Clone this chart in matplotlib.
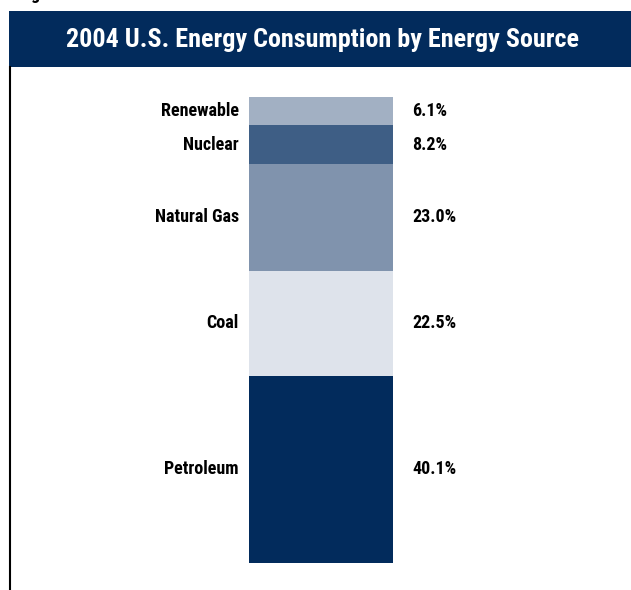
import matplotlib
matplotlib.use("Agg")
import matplotlib.pyplot as plt
from matplotlib.patches import Rectangle
from matplotlib.lines import Line2D
from matplotlib.transforms import blended_transform_factory

# data, bottom segment first
sources = ['Petroleum', 'Coal', 'Natural Gas', 'Nuclear', 'Renewable']
shares = [40.1, 22.5, 23.0, 8.2, 6.1]
labels = ['40.1%', '22.5%', '23.0%', '8.2%', '6.1%']
colors = ['#022b5c', '#dee3eb', '#8093ad', '#3e5e85', '#a2b0c3']

title = '2004 U.S. Energy Consumption by Energy Source'
plt.rcParams['font.family'] = ['Roboto Condensed', 'PT Sans Narrow', 'DejaVu Sans']

W, H = 631, 590
fig = plt.figure(figsize=(W / 100, H / 100), dpi=100)
fig.patch.set_facecolor('white')

# title band
fig.patches.append(Rectangle((9 / W, 1 - 67 / H), 622 / W, 56 / H,
                             transform=fig.transFigure, facecolor='#022b5c',
                             edgecolor='none', zorder=0))
fig.text(323 / W, 1 - 40 / H, title, color='white', fontsize=18.8, fontweight='bold',
         ha='center', va='center')
# cut-off caption above the band (only the descender shows)
fig.text(18 / W, 1 + 1 / H, 'Figure 1', color='black', fontsize=13, fontweight='bold',
         ha='left', va='baseline')
# left frame line
fig.add_artist(Line2D([9.5 / W, 9.5 / W], [0, 1 - 67 / H], transform=fig.transFigure,
                      color='black', linewidth=1.5))

ax = fig.add_axes([249 / W, 27 / H, 144 / W, 466 / H])
ax.set_xlim(0, 1)
ax.set_ylim(0, sum(shares))
ax.axis('off')

bottom = 0
trans = blended_transform_factory(ax.transAxes, ax.transData)
for src, val, lab, col in zip(sources, shares, labels, colors):
    ax.bar(0.5, val, width=1, bottom=bottom, color=col, edgecolor='none')
    mid = bottom + val / 2
    ax.text(-0.07, mid, src, transform=trans, ha='right', va='center',
            fontsize=13, fontweight='bold', color='black')
    ax.text(1.135, mid, lab, transform=trans, ha='left', va='center',
            fontsize=13, fontweight='bold', color='black')
    bottom += val

fig.savefig('out.png', dpi=100)
